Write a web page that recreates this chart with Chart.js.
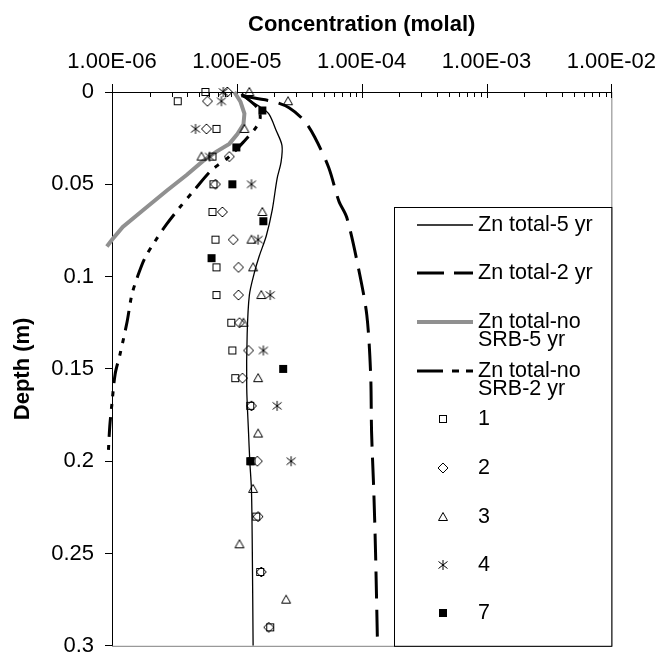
<!DOCTYPE html>
<html><head><meta charset="utf-8">
<script src="https://cdn.jsdelivr.net/npm/chart.js@4"></script>
<style>html,body{margin:0;padding:0;background:#fff}#wrap{width:665px;height:670px}</style>
</head><body><div id="wrap"><canvas id="c" width="665" height="670"></canvas></div>
<script>
// ---------- data ----------
const xTickLabels = ['1.00E-06','1.00E-05','1.00E-04','1.00E-03','1.00E-02'];
const yTickValues = [0, 0.05, 0.1, 0.15, 0.2, 0.25, 0.3];

const zn5Depth = [0.002, 0.0085, 0.012, 0.021, 0.029, 0.038, 0.047, 0.064, 0.078, 0.089, 0.098, 0.11, 0.131, 0.16, 0.184, 0.2, 0.216, 0.248, 0.3];
const zn5Conc  = [1.09e-5, 1.57e-5, 1.81e-5, 2.07e-5, 2.3e-5, 2.26e-5, 2.1e-5, 1.92e-5, 1.72e-5, 1.51e-5, 1.38e-5, 1.26e-5, 1.21e-5, 1.2e-5, 1.24e-5, 1.27e-5, 1.31e-5, 1.33e-5, 1.35e-5];

const zn2Depth = [0.002, 0.0053, 0.0085, 0.0154, 0.0244, 0.041, 0.059, 0.068, 0.096, 0.121, 0.153, 0.184, 0.216, 0.248, 0.3];
const zn2Conc  = [1.09e-5, 1.99e-5, 2.62e-5, 3.45e-5, 4.2e-5, 5.45e-5, 6.56e-5, 7.6e-5, 9.46e-5, 1.1e-4, 1.18e-4, 1.2e-4, 1.25e-4, 1.29e-4, 1.34e-4];

const noSrb5Depth = [0, 0.0053, 0.0117, 0.0175, 0.0228, 0.0281, 0.0323, 0.0376, 0.045, 0.0535, 0.0641, 0.0731, 0.080, 0.0837];
const noSrb5Conc  = [9.55e-6, 1.07e-5, 1.15e-5, 1.13e-5, 1.01e-5, 8.7e-6, 6.87e-6, 5.31e-6, 3.96e-6, 2.74e-6, 1.77e-6, 1.22e-6, 1.0e-6, 9.1e-7];

const noSrb2Depth = [0.001, 0.0085, 0.0138, 0.019, 0.0265, 0.035, 0.0424, 0.053, 0.0626, 0.0716, 0.0811, 0.0901, 0.0996, 0.110, 0.1246, 0.142, 0.1527, 0.1685, 0.181, 0.198];
const noSrb2Conc  = [1.09e-5, 1.46e-5, 1.54e-5, 1.43e-5, 1.15e-5, 8.7e-6, 6.27e-6, 4.58e-6, 3.48e-6, 2.74e-6, 2.2e-6, 1.83e-6, 1.61e-6, 1.44e-6, 1.32e-6, 1.16e-6, 1.06e-6, 1.0e-6, 9.6e-7, 9.3e-7];

const s1Depth = [0, 0.005, 0.02, 0.035, 0.05, 0.065, 0.08, 0.095, 0.11, 0.125, 0.14, 0.155, 0.17, 0.2, 0.23, 0.26, 0.29];
const s1Conc  = [5.6e-6, 3.36e-6, 6.87e-6, 6.38e-6, 6.5e-6, 6.38e-6, 6.74e-6, 6.87e-6, 6.87e-6, 9.03e-6, 9.2e-6, 9.72e-6, 1.28e-5, 1.31e-5, 1.43e-5, 1.54e-5, 1.85e-5];

const s2Depth = [0, 0.005, 0.02, 0.035, 0.05, 0.065, 0.08, 0.095, 0.11, 0.125, 0.14, 0.155, 0.17, 0.2, 0.23, 0.26, 0.29];
const s2Conc  = [8.39e-6, 5.82e-6, 5.71e-6, 8.71e-6, 6.74e-6, 7.66e-6, 9.37e-6, 1.03e-5, 1.03e-5, 1.05e-5, 1.24e-5, 1.11e-5, 1.31e-5, 1.46e-5, 1.48e-5, 1.57e-5, 1.8e-5];

const s3Depth = [0, 0.005, 0.02, 0.035, 0.065, 0.08, 0.095, 0.11, 0.125, 0.155, 0.185, 0.215, 0.245, 0.275];
const s3Conc  = [1.26e-5, 2.57e-5, 1.15e-5, 5.21e-6, 1.6e-5, 1.31e-5, 1.35e-5, 1.57e-5, 1.13e-5, 1.48e-5, 1.48e-5, 1.35e-5, 1.05e-5, 2.48e-5];

const s4Depth = [0, 0.005, 0.02, 0.035, 0.05, 0.08, 0.11, 0.14, 0.17, 0.2];
const s4Conc  = [7.8e-6, 7.52e-6, 4.67e-6, 6.04e-6, 1.31e-5, 1.48e-5, 1.85e-5, 1.63e-5, 2.1e-5, 2.72e-5];

const s7Depth = [0.01, 0.03, 0.05, 0.07, 0.09, 0.15, 0.2];
const s7Conc  = [1.6e-5, 9.91e-6, 9.2e-6, 1.63e-5, 6.27e-6, 2.35e-5, 1.28e-5];

// ---------- helpers ----------
const pts = (c, d) => c.map((v, i) => ({x: v, y: d[i]}));
const FONT = "'Liberation Sans', Arial, sans-serif";

function mk(type) {
  const c = document.createElement('canvas'); c.width = 12; c.height = 12;
  const g = c.getContext('2d'); g.strokeStyle = '#000'; g.fillStyle = '#000'; g.lineWidth = 1;
  g.beginPath();
  if (type === 'sq') { g.strokeRect(2.5, 2.5, 7, 7); }
  else if (type === 'fsq') { g.fillRect(2, 2, 8, 8); }
  else if (type === 'dia') { g.moveTo(6, 1); g.lineTo(11, 6); g.lineTo(6, 11); g.lineTo(1, 6); g.closePath(); g.stroke(); }
  else if (type === 'tri') { g.moveTo(6, 1.5); g.lineTo(10.5, 9.5); g.lineTo(1.5, 9.5); g.closePath(); g.stroke(); }
  else if (type === 'star') { g.moveTo(1.5, 2.5); g.lineTo(10.5, 9.5); g.moveTo(10.5, 2.5); g.lineTo(1.5, 9.5); g.moveTo(6, 1); g.lineTo(6, 11); g.stroke(); }
  return c;
}
const M = {sq: mk('sq'), dia: mk('dia'), tri: mk('tri'), star: mk('star'), fsq: mk('fsq')};

const styles = {
  zn5:   {color: '#000', width: 1.3, dash: []},
  zn2:   {color: '#000', width: 3, dash: [27, 11]},
  nos5:  {color: '#909090', width: 4, dash: []},
  nos2:  {color: '#000', width: 3, dash: [20, 8, 5, 8, 5, 8]}
};

function lineDs(label, c, d, st, tension, clip) {
  return {label, data: pts(c, d), showLine: true, pointRadius: 0, borderColor: st.color,
          borderWidth: st.width, borderDash: st.dash, tension, fill: false, clip};
}
function markDs(label, c, d, img) {
  return {label, data: pts(c, d), showLine: false, pointStyle: img, pointRadius: 6, clip: false};
}

// ---------- plugin: axes ticks, borders, legend ----------
const deco = {
  id: 'deco',
  beforeDatasetsDraw(chart) {
    const {ctx, chartArea: a, scales: {x}} = chart;
    ctx.save();
    ctx.strokeStyle = '#808080'; ctx.lineWidth = 1;
    ctx.beginPath();
    ctx.moveTo(a.right + 0.5, a.top); ctx.lineTo(a.right + 0.5, a.bottom + 0.5);
    ctx.lineTo(a.left, a.bottom + 0.5);
    ctx.stroke();
    ctx.strokeStyle = '#000';
    ctx.beginPath();
    for (let e = -6; e <= -2; e++) {
      const px = Math.round(x.getPixelForValue(Math.pow(10, e))) + 0.5;
      ctx.moveTo(px, a.top - 8); ctx.lineTo(px, a.top + 6);
      if (e < -2) {
        for (let m = 2; m <= 9; m++) {
          const p2 = Math.round(x.getPixelForValue(m * Math.pow(10, e))) + 0.5;
          ctx.moveTo(p2, a.top); ctx.lineTo(p2, a.top + 5);
        }
      }
    }
    ctx.stroke();
    ctx.restore();
  },
  afterDraw(chart) {
    const {ctx, chartArea: a} = chart;
    ctx.save();
    const bx = 394, by = 207;
    ctx.fillStyle = '#fff';
    ctx.fillRect(bx, by, a.right - bx, a.bottom - by);
    ctx.strokeStyle = '#000'; ctx.lineWidth = 1;
    ctx.strokeRect(bx + 0.5, by + 0.5, a.right - bx, a.bottom - by);
    ctx.font = '21.5px ' + FONT; ctx.fillStyle = '#000'; ctx.textBaseline = 'middle'; ctx.textAlign = 'left';
    const items = [
      {st: styles.zn5, text: ['Zn total-5 yr'], y: 225},
      {st: styles.zn2, text: ['Zn total-2 yr'], y: 273},
      {st: styles.nos5, text: ['Zn total-no', 'SRB-5 yr'], y: 322},
      {st: styles.nos2, text: ['Zn total-no', 'SRB-2 yr'], y: 371},
      {img: M.sq, text: ['1'], y: 419},
      {img: M.dia, text: ['2'], y: 468},
      {img: M.tri, text: ['3'], y: 517},
      {img: M.star, text: ['4'], y: 565},
      {img: M.fsq, text: ['7'], y: 613}
    ];
    items.forEach(it => {
      if (it.st) {
        ctx.save();
        ctx.strokeStyle = it.st.color; ctx.lineWidth = it.st.width;
        ctx.setLineDash(it.st.dash.length ? [26, 9, 7, 7, 7, 8] : []);
        if (it.st === styles.zn2) ctx.setLineDash([27, 10]);
        ctx.beginPath(); ctx.moveTo(417, it.y); ctx.lineTo(473, it.y); ctx.stroke();
        ctx.restore();
      } else {
        ctx.drawImage(it.img, 443 - 6, it.y - 6);
      }
      it.text.forEach((t, i) => ctx.fillText(t, 478, it.y + i * 18.5));
    });
    ctx.restore();
  }
};

new Chart(document.getElementById('c'), {
  type: 'scatter',
  data: {
    datasets: [
      markDs('7', s7Conc, s7Depth, M.fsq),
      markDs('4', s4Conc, s4Depth, M.star),
      markDs('3', s3Conc, s3Depth, M.tri),
      markDs('2', s2Conc, s2Depth, M.dia),
      markDs('1', s1Conc, s1Depth, M.sq),
      lineDs('Zn total-5 yr', zn5Conc, zn5Depth, styles.zn5, 0.3, 0),
      lineDs('Zn total-2 yr', zn2Conc, zn2Depth, styles.zn2, 0.3, 0),
      lineDs('Zn total-no SRB-5 yr', noSrb5Conc, noSrb5Depth, styles.nos5, 0, false),
      lineDs('Zn total-no SRB-2 yr', noSrb2Conc, noSrb2Depth, styles.nos2, 0.3, false)
    ]
  },
  options: {
    responsive: false, animation: false, devicePixelRatio: 1,
    layout: {padding: {left: 0, right: 51, top: 0, bottom: 12}},
    plugins: {legend: {display: false}, tooltip: {enabled: false}},
    scales: {
      x: {
        type: 'logarithmic', position: 'top', min: 1e-6, max: 1e-2,
        title: {display: true, text: 'Concentration (molal)', color: '#000',
                font: {family: FONT, size: 22, weight: 'bold'}, padding: {top: 12, bottom: 0}},
        ticks: {autoSkip: false, maxRotation: 0, minRotation: 0, color: '#000', padding: 9,
                font: {family: FONT, size: 22},
                callback: (v) => {
                  const e = Math.round(Math.log10(v));
                  if (Math.abs(v / Math.pow(10, e) - 1) > 1e-6) return '';
                  return xTickLabels[e + 6] || '';
                }},
        grid: {display: false},
        border: {display: true, color: '#000', width: 1},
        afterFit: s => { s.height = 92; }
      },
      y: {
        type: 'linear', reverse: true, min: 0, max: 0.3,
        afterBuildTicks: s => { s.ticks = yTickValues.map(v => ({value: v})); },
        title: {display: true, text: 'Depth (m)', color: '#000',
                font: {family: FONT, size: 22, weight: 'bold'}, padding: {top: 10, bottom: 0}},
        ticks: {color: '#000', padding: 11, font: {family: FONT, size: 22},
                callback: v => String(parseFloat(Number(v).toFixed(2)))},
        grid: {drawOnChartArea: false, drawTicks: true, tickLength: 7, color: '#000'},
        border: {display: true, color: '#000', width: 1},
        afterFit: s => { s.width = 112; }
      }
    }
  },
  plugins: [deco]
});
</script></body></html>
